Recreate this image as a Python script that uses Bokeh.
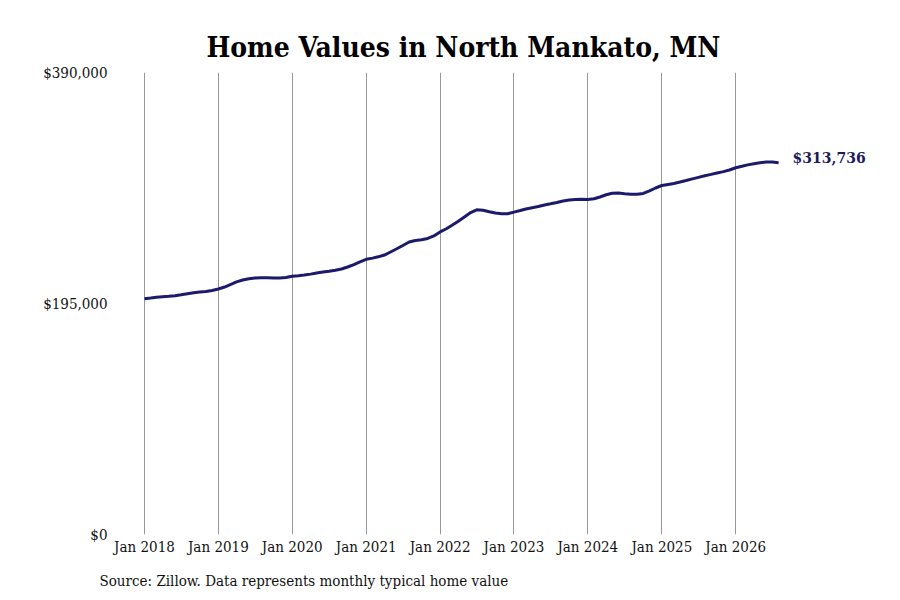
import numpy as np
import pandas as pd
from bokeh.plotting import figure
from bokeh.models import (ColumnDataSource, FixedTicker, NumeralTickFormatter, Label,
                          Title, Range1d, CustomJSTickFormatter)
from bokeh.embed import file_html
from bokeh.resources import INLINE

# ---- data ----
start_month = "2018-01-01"
home_values = [
    # 2018
    199000, 199600, 200200, 200700, 201100, 201600, 202300, 203200, 204100, 204700, 205100, 206000,
    # 2019
    207200, 208900, 211000, 213200, 214800, 215900, 216500, 216800, 216700, 216500, 216600, 216900,
    # 2020
    218000, 218500, 219100, 219800, 220700, 221500, 222200, 223000, 224100, 225800, 227900, 230200,
    # 2021
    232300, 233300, 234400, 235900, 238500, 241200, 244000, 246900, 248200, 248800, 249900, 252000,
    # 2022
    255400, 258100, 261000, 264400, 268000, 271800, 274100, 273700, 272500, 271400, 270800, 270800,
    # 2023
    272100, 273500, 274800, 275900, 276900, 278200, 279200, 280300, 281500, 282300, 282800, 282900,
    # 2024
    282800, 283400, 284900, 286800, 288000, 288300, 287700, 287200, 287200, 287900, 290100, 292500,
    # 2025
    294600, 295500, 296300, 297500, 298800, 300200, 301500, 302800, 304000, 305200, 306300, 307700,
    # 2026
    309600, 310800, 312000, 313000, 313900, 314400, 314400, 313736,
]
last_value_label = "$313,736"
y_ticks = [0, 195000, 390000]
x_tick_years = [2018, 2019, 2020, 2021, 2022, 2023, 2024, 2025, 2026]
title_text = "Home Values in North Mankato, MN"
source_text = "Source: Zillow. Data represents monthly typical home value"

dates = pd.date_range(start_month, periods=len(home_values), freq="MS")
src = ColumnDataSource(data=dict(date=dates, value=home_values))

def ms(ts):
    return pd.Timestamp(ts).value / 1e6

# pixel geometry
px_per_year = 73.9
ms_per_year = 365.25 * 86400000
ms_per_px = ms_per_year / px_per_year
jan2018 = ms("2018-01-01")
x_start = jan2018 - 29 * ms_per_px
x_end = jan2018 + 736 * ms_per_px

FONT_C = "DejaVu Serif Condensed"

p = figure(width=900, height=600, x_axis_type="datetime", output_backend="svg",
           toolbar_location=None, x_range=Range1d(x_start, x_end),
           y_range=Range1d(0, 390000),
           min_border_left=115, min_border_right=20, min_border_top=72, min_border_bottom=66)
p.outline_line_color = None
p.background_fill_color = "white"

p.line("date", "value", source=src, line_color="#1c1a6b", line_width=3)

# axes
p.xaxis.ticker = FixedTicker(ticks=[ms(f"{y}-01-01") for y in x_tick_years])
p.xaxis.formatter = CustomJSTickFormatter(code="""
    const d = new Date(tick);
    return 'Jan ' + d.getUTCFullYear();
""")
p.yaxis.ticker = FixedTicker(ticks=y_ticks)
p.yaxis.formatter = NumeralTickFormatter(format="$0,0")
for ax in (p.xaxis, p.yaxis):
    ax.axis_line_color = None
    ax.major_tick_line_color = None
    ax.minor_tick_line_color = None
    ax.major_label_text_font = FONT_C
    ax.major_label_text_font_size = "15px"
    ax.major_label_text_color = "#111111"
p.xaxis.major_label_standoff = -3
p.yaxis.major_label_standoff = 2

p.xgrid.grid_line_color = "#999999"
p.xgrid.grid_line_width = 1
p.ygrid.grid_line_color = None

# end label
p.add_layout(Label(x=dates[-1].value / 1e6, y=home_values[-1], text=last_value_label,
                   x_offset=14, y_offset=5, text_baseline="middle",
                   text_font="DejaVu Serif", text_font_style="bold",
                   text_font_size="14px", text_color="#1c1a5e"))

# titles
p.title.text = title_text
p.title.text_font = FONT_C
p.title.text_font_style = "bold"
p.title.text_font_size = "28px"
p.title.align = "left"
p.title.offset = 91
p.title.standoff = 17
p.title.text_color = "#000000"

p.add_layout(Title(text=source_text, align="left", text_font=FONT_C,
                   text_font_size="15px", text_font_style="normal",
                   text_color="#111111", offset=-16, standoff=22), "below")

open("out.html", "w").write(file_html(p, INLINE))
